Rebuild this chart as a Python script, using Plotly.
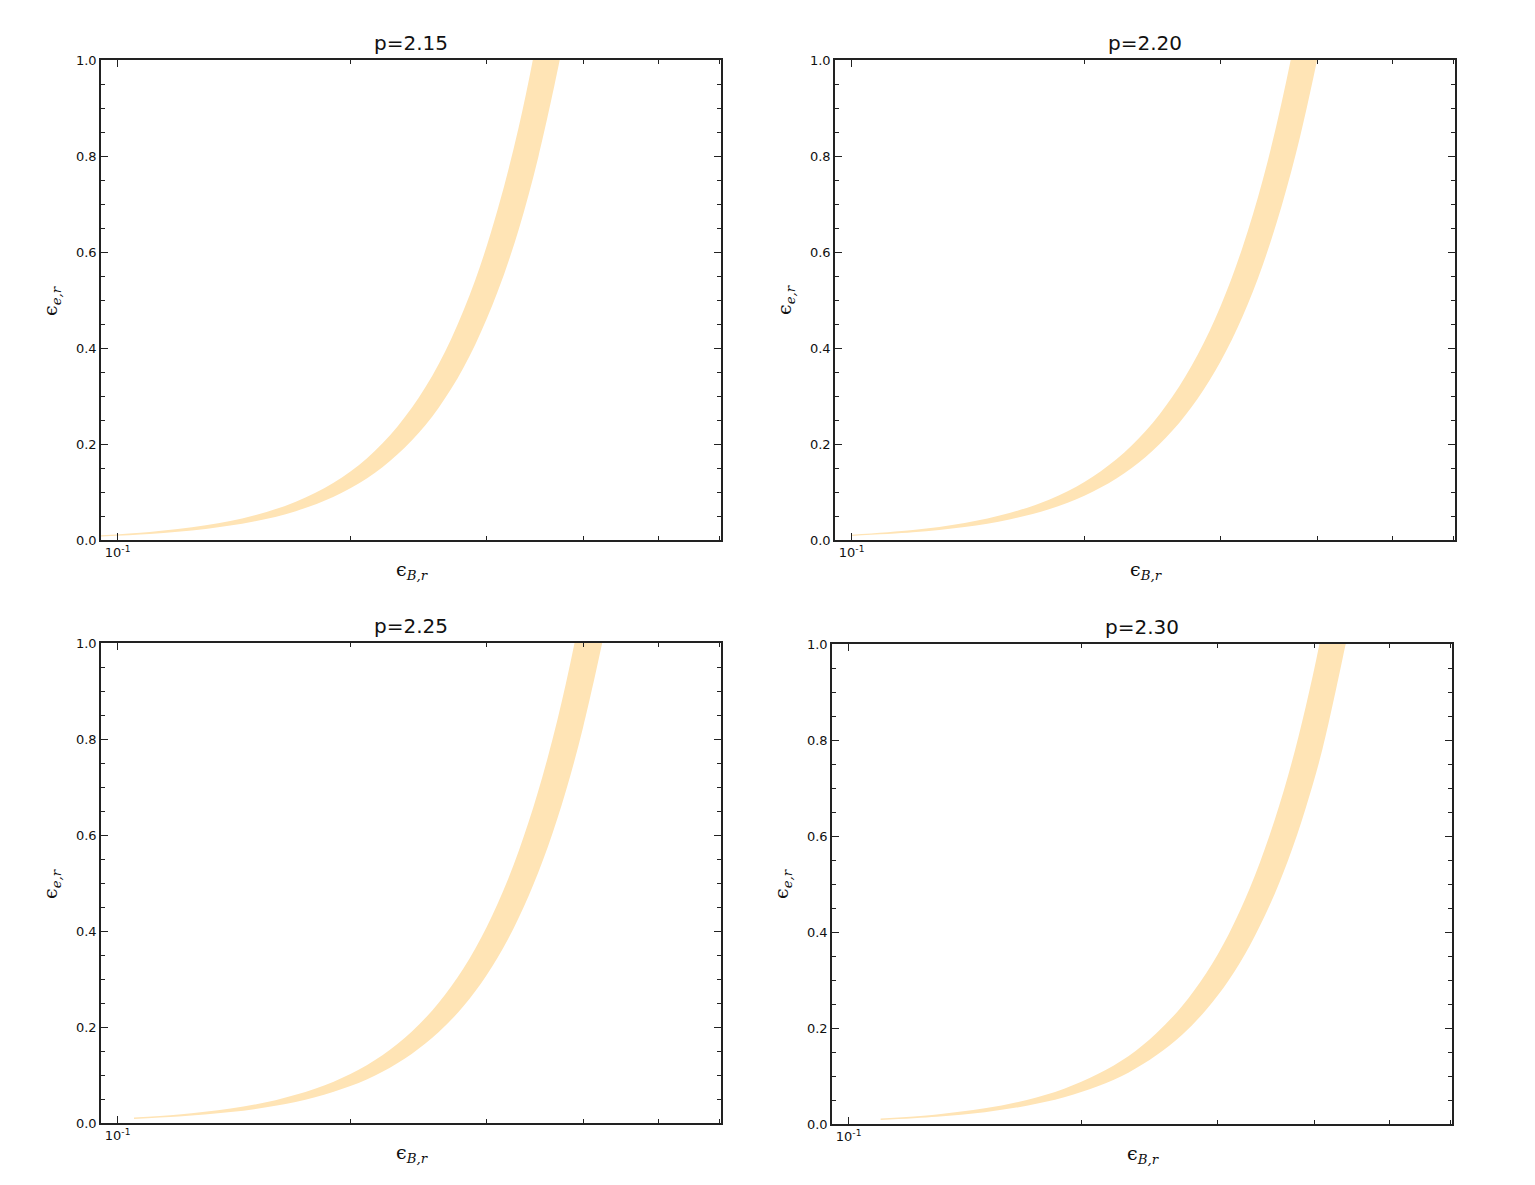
import plotly.graph_objects as go

# --- data: eps_B grid and lower / upper eps_e bounds per panel ---
titles = ["p=2.15", "p=2.20", "p=2.25", "p=2.30"]

eps_b_215 = [0.095, 0.11, 0.13, 0.15, 0.17, 0.19, 0.21, 0.23, 0.25, 0.27, 0.29, 0.31, 0.33, 0.35, 0.373, 0.38]
eps_e_lo_215 = [0.0075, 0.0127, 0.0230, 0.0384, 0.0601, 0.0896, 0.128, 0.178, 0.239, 0.315, 0.407, 0.517, 0.646, 0.798, 1.0, 1.071]
eps_e_hi_215 = [0.0100, 0.0169, 0.0306, 0.0511, 0.0799, 0.119, 0.170, 0.236, 0.318, 0.419, 0.541, 0.688, 0.859, 1.061, 1.33, 1.42]

eps_b_220 = [0.1, 0.12, 0.14, 0.16, 0.18, 0.2, 0.22, 0.24, 0.26, 0.28, 0.30, 0.32, 0.34, 0.36, 0.38, 0.40, 0.41]
eps_e_lo_220 = [0.0085, 0.0159, 0.0270, 0.0428, 0.0642, 0.0922, 0.128, 0.173, 0.228, 0.294, 0.372, 0.464, 0.572, 0.697, 0.839, 1.001, 1.090]
eps_e_hi_220 = [0.0111, 0.0208, 0.0354, 0.0561, 0.0841, 0.121, 0.168, 0.227, 0.299, 0.385, 0.487, 0.608, 0.749, 0.913, 1.099, 1.311, 1.428]

eps_b_225 = [0.105, 0.12, 0.14, 0.16, 0.18, 0.2, 0.22, 0.24, 0.26, 0.28, 0.30, 0.32, 0.34, 0.36, 0.38, 0.40, 0.423, 0.43]
eps_e_lo_225 = [0.0085, 0.0134, 0.0227, 0.0359, 0.0537, 0.0770, 0.107, 0.144, 0.189, 0.243, 0.308, 0.384, 0.473, 0.575, 0.692, 0.825, 0.998, 1.056]
eps_e_hi_225 = [0.0113, 0.0178, 0.0301, 0.0476, 0.0712, 0.102, 0.141, 0.190, 0.250, 0.322, 0.408, 0.509, 0.627, 0.762, 0.916, 1.093, 1.322, 1.399]

eps_b_230 = [0.11, 0.13, 0.15, 0.17, 0.19, 0.21, 0.23, 0.25, 0.27, 0.29, 0.31, 0.33, 0.35, 0.37, 0.39, 0.41, 0.438, 0.445]
eps_e_lo_230 = [0.0085, 0.0151, 0.0247, 0.0380, 0.0556, 0.0784, 0.107, 0.143, 0.186, 0.238, 0.299, 0.371, 0.454, 0.549, 0.658, 0.781, 0.99, 1.045]
eps_e_hi_230 = [0.0112, 0.0199, 0.0326, 0.0502, 0.0734, 0.104, 0.141, 0.189, 0.246, 0.314, 0.395, 0.490, 0.600, 0.725, 0.869, 1.032, 1.30, 1.38]

x_major = [0.1]
x_major_text = ["10<sup>-1</sup>"]
x_minor = [0.2, 0.3, 0.4, 0.5, 0.6]

panels = [
    (eps_b_215, eps_e_lo_215, eps_e_hi_215),
    (eps_b_220, eps_e_lo_220, eps_e_hi_220),
    (eps_b_225, eps_e_lo_225, eps_e_hi_225),
    (eps_b_230, eps_e_lo_230, eps_e_hi_230),
]

W, H = 1535, 1185
# pixel boxes of the four axes (left, right, top, bottom)
boxes = [(101, 721, 60, 540), (835, 1455, 60, 540), (101, 721, 643, 1123), (832, 1452, 644, 1124)]

band_color = "#FFE4B5"
axis_color = "#222222"
fig = go.Figure()
annotations = []

for n, ((xb, lo, hi), box) in enumerate(zip(panels, boxes)):
    idx = "" if n == 0 else str(n + 1)
    # polygon: lower edge forward, upper edge back
    fig.add_trace(go.Scatter(
        x=list(xb) + list(xb)[::-1],
        y=list(lo) + list(hi)[::-1],
        fill="toself", fillcolor=band_color,
        mode="lines", line=dict(width=0, color=band_color, shape="spline", smoothing=1.0),
        hoverinfo="skip", showlegend=False,
        xaxis="x" + idx, yaxis="y" + idx,
    ))

    l, r, t, b = box
    xd = [l / W, r / W]
    yd = [1 - b / H, 1 - t / H]
    common = dict(showline=True, linecolor=axis_color, linewidth=1.5, mirror="ticks",
                  ticks="inside", tickcolor=axis_color, showgrid=False, zeroline=False,
                  automargin=False,
                  tickfont=dict(family="DejaVu Sans", size=13, color="#111111"))
    fig.layout["xaxis" + idx] = dict(
        domain=xd, anchor="y" + idx, type="log", range=[-1.0215, -0.2197],
        tickmode="array", tickvals=x_major, ticktext=x_major_text, ticklen=7, tickwidth=1,
        minor=dict(tickmode="array", tickvals=x_minor, ticks="inside", ticklen=4, tickcolor=axis_color),
        **common)
    fig.layout["yaxis" + idx] = dict(
        domain=yd, anchor="x" + idx, range=[0, 1],
        tickmode="linear", tick0=0, dtick=0.2, tickformat=".1f", ticklen=7, tickwidth=1,
        minor=dict(dtick=0.05, ticks="inside", ticklen=4, tickcolor=axis_color),
        **common)

    cx = (l + r) / 2 / W
    annotations.append(dict(text=titles[n], x=cx, y=1 - t / H, xref="paper", yref="paper",
                            xanchor="center", yanchor="bottom", yshift=3, showarrow=False,
                            font=dict(family="DejaVu Sans", size=20, color="#111111")))
    annotations.append(dict(text="ϵ<sub><i>B,r</i></sub>", x=cx + 0.001, y=1 - (b + 30) / H,
                            xref="paper", yref="paper", xanchor="center", yanchor="middle",
                            showarrow=False, font=dict(family="DejaVu Serif", size=19, color="#111111")))
    annotations.append(dict(text="ϵ<sub><i>e,r</i></sub>", x=(l - 50) / W, y=1 - (t + b) / 2 / H,
                            xref="paper", yref="paper", xanchor="center", yanchor="middle",
                            textangle=-90, showarrow=False,
                            font=dict(family="DejaVu Serif", size=19, color="#111111")))

fig.update_layout(width=W, height=H, margin=dict(l=0, r=0, t=0, b=0, autoexpand=False),
                  paper_bgcolor="white", plot_bgcolor="white",
                  annotations=annotations, showlegend=False)

# pin the plot to the page corner so the page is exactly the figure size
pin = ("var d=document.querySelector('.plotly-graph-div');"
       "d.style.position='fixed';d.style.top='0';d.style.left='0';"
       "document.body.style.margin='0';document.body.style.height='1185px';"
       "document.body.style.overflow='hidden';document.documentElement.style.overflow='hidden';")
fig.write_html("out.html", config={"displayModeBar": False}, post_script=pin)
